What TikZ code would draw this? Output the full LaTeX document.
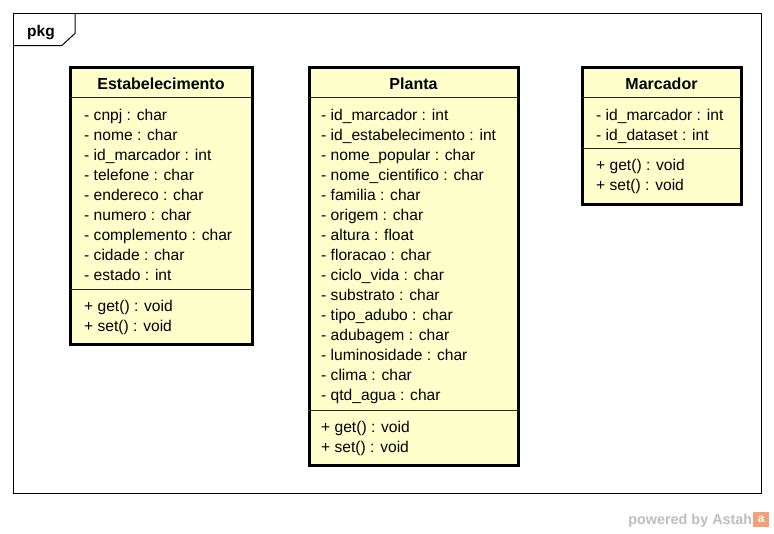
\documentclass[tikz,border=0pt]{standalone}
\usepackage{fontspec}
\setmainfont{Liberation Sans}
\definecolor{classfill}{RGB}{255,255,204}
\definecolor{astahgray}{RGB}{190,190,190}
\definecolor{astahorange}{RGB}{245,160,120}
\begin{document}
\begin{tikzpicture}[x=1pt,y=-1pt,
  classbox/.style={draw=black, line width=3pt, fill=classfill, anchor=north west, inner sep=0pt, outer sep=0pt},
  sepline/.style={draw=black!85, line width=1pt},
  title/.style={anchor=base, inner sep=0pt, font=\fontsize{16}{19}\selectfont\bfseries},
  attr/.style={anchor=base west, inner sep=0pt, font=\fontsize{15.6}{19}\selectfont},
  frameline/.style={draw=black, line width=1pt}]
\useasboundingbox (0,0) rectangle (774,533);
\fill[white] (0,0) rectangle (774,533);
% package frame
\draw[frameline] (13,13) rectangle (761,493);
\coordinate (tabA) at (75,13);
\coordinate (tabB) at (75,33.3);
\coordinate (tabC) at (61.7,45.7);
\coordinate (tabD) at (13,45.7);
\draw[frameline] (tabA) -- (tabB) -- (tabC) -- (tabD);
\node[anchor=base west, inner sep=0pt, font=\fontsize{15.5}{18}\selectfont\bfseries] (pkg) at (27,36.5) {pkg};

% Estabelecimento
\node[classbox, minimum width=182pt, minimum height=277pt] (estab) at (70,67) {};
\draw[sepline] (estab.west |- 0,97.5) -- (estab.east |- 0,97.5);
\draw[sepline] (estab.west |- 0,289.5) -- (estab.east |- 0,289.5);
\node[title] (estabT) at (161,89) {Estabelecimento};
\node[attr] (e1) at (84,120) {- cnpj : char};
\node[attr] (e2) at (84,140) {- nome : char};
\node[attr] (e3) at (84,160) {- id\_marcador : int};
\node[attr] (e4) at (84,180) {- telefone : char};
\node[attr] (e5) at (84,200) {- endereco : char};
\node[attr] (e6) at (84,220) {- numero : char};
\node[attr] (e7) at (84,240) {- complemento : char};
\node[attr] (e8) at (84,260) {- cidade : char};
\node[attr] (e9) at (84,280) {- estado : int};
\node[attr] (em1) at (84,311.5) {+ get() : void};
\node[attr] (em2) at (84,331.5) {+ set() : void};

% Planta
\node[classbox, minimum width=209pt, minimum height=398pt] (planta) at (309,67) {};
\draw[sepline] (planta.west |- 0,97.5) -- (planta.east |- 0,97.5);
\draw[sepline] (planta.west |- 0,410.5) -- (planta.east |- 0,410.5);
\node[title] (plantaT) at (413.5,89) {Planta};
\node[attr] (p1) at (321,120) {- id\_marcador : int};
\node[attr] (p2) at (321,140) {- id\_estabelecimento : int};
\node[attr] (p3) at (321,160) {- nome\_popular : char};
\node[attr] (p4) at (321,180) {- nome\_cientifico : char};
\node[attr] (p5) at (321,200) {- familia : char};
\node[attr] (p6) at (321,220) {- origem : char};
\node[attr] (p7) at (321,240) {- altura : float};
\node[attr] (p8) at (321,260) {- floracao : char};
\node[attr] (p9) at (321,280) {- ciclo\_vida : char};
\node[attr] (p10) at (321,300) {- substrato : char};
\node[attr] (p11) at (321,320) {- tipo\_adubo : char};
\node[attr] (p12) at (321,340) {- adubagem : char};
\node[attr] (p13) at (321,360) {- luminosidade : char};
\node[attr] (p14) at (321,380) {- clima : char};
\node[attr] (p15) at (321,400) {- qtd\_agua : char};
\node[attr] (pm1) at (321,432.5) {+ get() : void};
\node[attr] (pm2) at (321,452.5) {+ set() : void};

% Marcador
\node[classbox, minimum width=159pt, minimum height=137pt] (marc) at (582,67) {};
\draw[sepline] (marc.west |- 0,97.5) -- (marc.east |- 0,97.5);
\draw[sepline] (marc.west |- 0,148.5) -- (marc.east |- 0,148.5);
\node[title] (marcT) at (661.5,89) {Marcador};
\node[attr] (m1) at (596,120) {- id\_marcador : int};
\node[attr] (m2) at (596,140) {- id\_dataset : int};
\node[attr] (mm1) at (596,170.5) {+ get() : void};
\node[attr] (mm2) at (596,190.5) {+ set() : void};

% powered by Astah
\node[anchor=base east, inner sep=0pt, text=astahgray, font=\fontsize{14.4}{16}\selectfont\bfseries] (powered) at (752.5,524.5) {powered by Astah};
\node[anchor=south west, fill=astahorange, minimum width=16pt, minimum height=15pt, inner sep=0pt, text=white, font=\fontsize{12}{12}\selectfont\bfseries] (logo) at (753,527) {a};
\end{tikzpicture}
\end{document}
